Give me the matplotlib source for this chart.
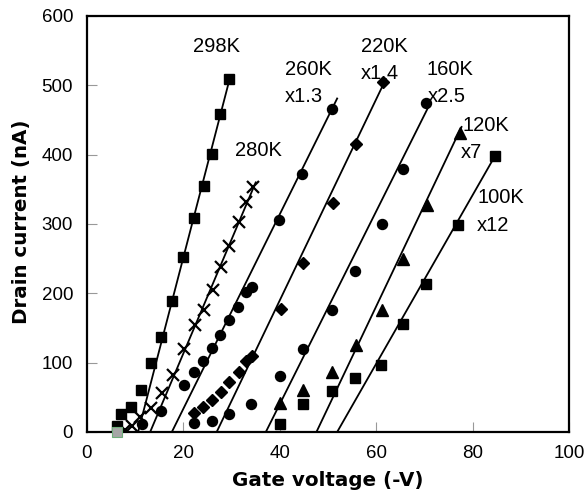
import matplotlib
matplotlib.use("Agg")
import matplotlib.pyplot as plt

# ---- data ----
t298_x = [29.5, 27.6, 25.9, 24.3, 22.2, 19.9, 17.6, 15.4, 13.3, 11.1, 9.1, 7.1, 6.3]
t298_y = [509, 459, 401, 355, 309, 252, 189, 137, 99, 61, 36, 26, 8]

t280_x = [34.4, 33.0, 31.5, 29.5, 27.8, 26.1, 24.3, 22.4, 20.1, 17.8, 15.6, 13.3, 11.0, 9.3, 7.9]
t280_y = [353, 332, 303, 268, 238, 205, 176, 154, 120, 82, 56, 35, 22, 8, 3]

t260_x = [50.8, 44.7, 39.9, 34.2, 32.9, 31.4, 29.4, 27.6, 25.9, 24.1, 22.1, 20.1, 15.4, 11.4]
t260_y = [466, 372, 306, 209, 202, 180, 161, 140, 121, 103, 87, 68, 30, 12]

t220_x = [61.5, 55.9, 51.0, 44.9, 40.2, 34.2, 32.9, 31.5, 29.5, 27.7, 25.9, 24.1, 22.2]
t220_y = [505, 416, 330, 244, 178, 110, 103, 86, 72, 58, 46, 36, 28]

t160_x = [70.3, 65.6, 61.1, 55.6, 50.9, 44.8, 40.0, 34.1, 29.4, 25.9, 22.1]
t160_y = [474, 379, 300, 232, 176, 119, 81, 41, 26, 16, 13]

t120_x = [77.4, 70.5, 65.5, 61.1, 55.9, 50.9, 44.9, 40.0]
t120_y = [431, 327, 250, 176, 125, 86, 61, 42]

t100_x = [84.6, 77.0, 70.3, 65.5, 61.0, 55.6, 50.8, 44.8, 40.0]
t100_y = [398, 299, 213, 156, 97, 78, 59, 40, 12]

origin_x = [6.2]
origin_y = [0]

# linear fits: start x (at 0 nA), end x, end y
fit_x0 = [10.6, 13.1, 17.6, 26.9, 37.1, 47.6, 51.9]
fit_x1 = [29.7, 35.0, 51.9, 62.0, 71.2, 77.7, 84.8]
fit_y1 = [512, 360, 481, 509, 474, 440, 400]

# annotations: text, x, baseline y
ann_text = ["298K", "280K", "260K", "x1.3", "220K", "x1.4", "160K", "x2.5",
            "120K", "x7", "100K", "x12"]
ann_x = [22.0, 30.7, 41.1, 41.1, 56.9, 56.9, 70.5, 70.7, 77.9, 77.6, 81.0, 80.9]
ann_y = [548, 398, 515, 476, 548, 509, 515, 476, 434, 395, 330, 290]

x_ticks = [0, 20, 40, 60, 80, 100]
y_ticks = [0, 100, 200, 300, 400, 500, 600]

# ---- figure ----
W, H = 587, 493
fig = plt.figure(figsize=(W / 100, H / 100), dpi=100)
ax = fig.add_axes([87 / W, 1 - 432 / H, (569 - 87) / W, (432 - 16) / H])

# fit lines
for x0, x1, y1 in zip(fit_x0, fit_x1, fit_y1):
    ax.plot([x0, x1], [0, y1], color="black", lw=1.3, zorder=2)

mk = dict(color="black", linestyle="none", zorder=3)
ax.plot(t298_x, t298_y, marker="s", markersize=7.2, **mk)
ax.plot(t280_x, t280_y, marker="x", markersize=8, markeredgewidth=1.6, **mk)
ax.plot(t260_x, t260_y, marker="o", markersize=7.2, **mk)
ax.plot(t220_x, t220_y, marker="D", markersize=5.8, **mk)
ax.plot(t160_x, t160_y, marker="o", markersize=7.2, **mk)
ax.plot(t120_x, t120_y, marker="^", markersize=8, **mk)
ax.plot(t100_x, t100_y, marker="s", markersize=7.2, **mk)
ax.plot(origin_x, origin_y, marker="s", markersize=7.2, color="#a6a6a6",
        markeredgecolor="#6fae7a", markeredgewidth=0.8, linestyle="none",
        zorder=4, clip_on=False)

for t, x, y in zip(ann_text, ann_x, ann_y):
    ax.text(x, y, t, ha="left", va="baseline", fontsize=14.5,
            family="Liberation Sans", color="black")

ax.set_xlim(0, 100)
ax.set_ylim(0, 600)
ax.set_xticks(x_ticks)
ax.set_yticks(y_ticks)
ax.tick_params(direction="in", length=7, width=0.8, color="#999999",
               labelsize=13.5, top=False, right=False)
ax.tick_params(axis="x", pad=9)
ax.tick_params(axis="y", pad=10)
for lab in ax.get_xticklabels() + ax.get_yticklabels():
    lab.set_family("Liberation Sans")
for s in ax.spines.values():
    s.set_linewidth(1.6)
    s.set_color("black")

fig.text(328 / W, 1 - 481 / H, "Gate voltage (-V)", ha="center", va="center",
         fontsize=14.3, fontweight="bold", family="DejaVu Sans")
fig.text(21.7 / W, 1 - 222 / H, "Drain current (nA)", ha="center", va="center",
         rotation=90, fontsize=14.3, fontweight="bold", family="DejaVu Sans")

fig.savefig("out.png", dpi=100)
